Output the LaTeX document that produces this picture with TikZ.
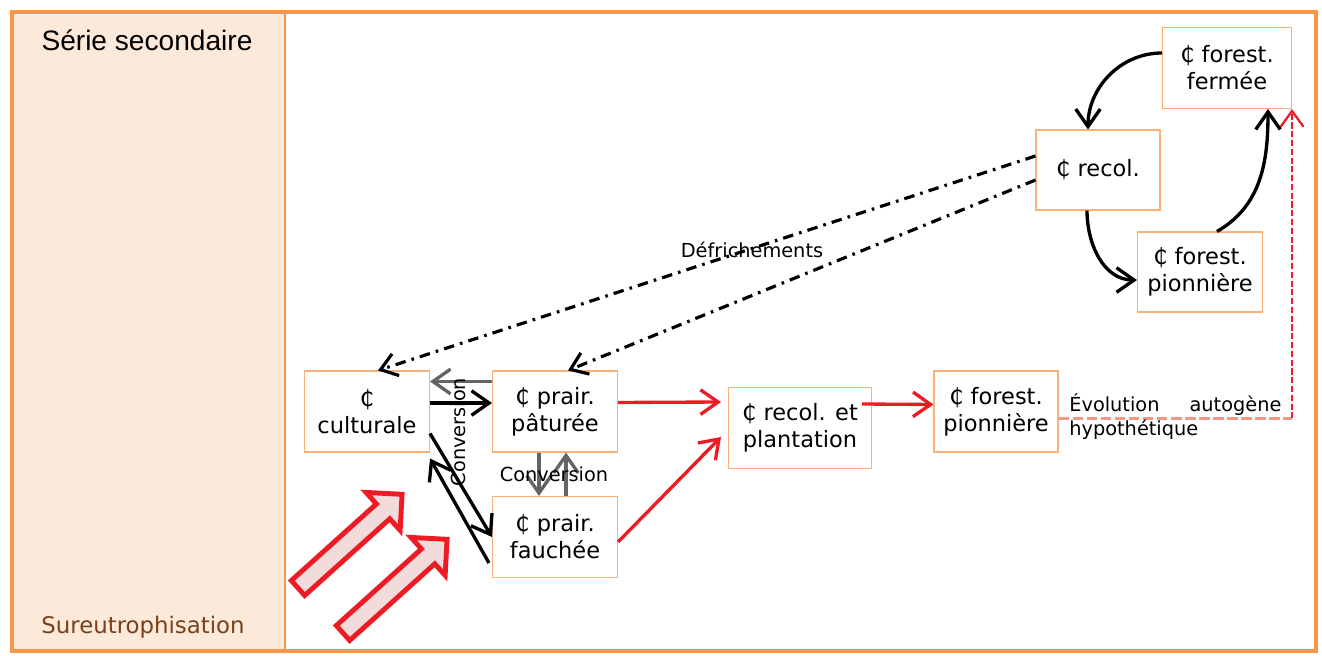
\documentclass[tikz,border=0pt]{standalone}
\usepackage{fontspec}
\setmainfont{DejaVu Sans}
\newfontfamily\arial{Liberation Sans}
\usetikzlibrary{arrows.meta}

\definecolor{orangecadre}{RGB}{247,150,70}
\definecolor{orangeboite}{RGB}{250,176,120}
\definecolor{peche}{RGB}{252,233,217}
\definecolor{rougefl}{RGB}{237,28,36}
\definecolor{rosefl}{RGB}{242,220,219}
\definecolor{saumon}{RGB}{244,150,130}
\definecolor{brun}{RGB}{120,65,25}
\definecolor{grisfl}{RGB}{100,100,100}

\tikzset{
  boite/.style={draw=orangeboite, line width=0.6pt, fill=white, align=center,
    minimum width=2.5cm, minimum height=1.62cm, inner sep=2pt,
    font=\fontsize{12.8}{15.4}\selectfont},
  etiq/.style={font=\fontsize{11}{13.5}\selectfont, inner sep=1pt},
  fleche/.style={line width=1.9pt, -{Straight Barb[length=10pt,width=14pt]}},
  flecherouge/.style={fleche, rougefl},
  flechegrise/.style={fleche, grisfl},
  defrich/.style={line width=1.8pt, dash pattern=on 6pt off 3.5pt on 1.5pt off 3.5pt,
    -{Straight Barb[length=9pt,width=13pt]}},
  pointsaumon/.style={saumon, line width=2pt, dash pattern=on 6pt off 2pt},
  pointrouge/.style={rougefl, line width=1.3pt, dash pattern=on 3.5pt off 1.5pt,
    -{Straight Barb[length=9pt,width=13pt]}},
  creuse/.style={draw=rougefl, fill=rosefl, line width=2.8pt, line join=miter}
}

% grosse fleche creuse : #1 = milieu de la queue
\newcommand{\flechecreuse}[1]{%
  \begin{scope}[shift={#1}, rotate=42]
    \draw[creuse] (0,-0.2) -- (2.29,-0.2) -- (2.29,-0.51) -- (2.8,0)
      -- (2.29,0.51) -- (2.29,0.2) -- (0,0.2) -- cycle;
  \end{scope}}

\begin{document}
\begin{tikzpicture}
    \useasboundingbox (0,0) rectangle (26.44,13.1);

    % Cadre et bandeau de gauche
    \fill[peche] (0.24,0.08) rectangle (5.7,12.86);
    \draw[orangecadre, line width=2.3pt] (0.24,0.08) rectangle (26.32,12.86);
    \draw[orangecadre, line width=1.5pt] (5.7,0.08) -- (5.7,12.86);
    \node[font=\arial\fontsize{16}{19}\selectfont] (titre) at (2.94,12.3) {Série secondaire};
    \node[text=brun, font=\fontsize{13}{15}\selectfont] (sureu) at (2.86,0.56) {Sureutrophisation};

    % Communautes
    \node[boite] (culturale) at (7.34,4.87) {₵\\culturale};
    \node[boite] (paturee) at (11.1,4.87) {₵ prair.\\pâturée};
    \node[boite] (fauchee) at (11.1,2.36) {₵ prair.\\fauchée};
    \node[boite, minimum width=2.86cm] (plantation) at (16.0,4.54) {₵ recol. et\\plantation};
    \node[boite, minimum width=2.48cm] (pionniere) at (19.92,4.87) {₵ forest.\\pionnière};
    \node[boite, minimum width=2.48cm, minimum height=1.6cm] (recol) at (21.96,9.7) {₵ recol.};
    \node[boite, minimum width=2.58cm] (fermee) at (24.54,11.74) {₵ forest.\\fermée};
    \node[boite, minimum height=1.6cm] (pionniereh) at (24.0,7.66) {₵ forest.\\pionnière};

    % Conversions
    \draw[fleche] ([yshift=0.17cm]culturale.east) -- ([yshift=0.17cm]paturee.west);
    \draw[flechegrise] ([yshift=0.6cm]paturee.west) -- ([yshift=0.6cm]culturale.east);
    \draw[fleche] ([yshift=-0.44cm]culturale.east) -- (fauchee.west);
    \draw[fleche] ([xshift=-0.06cm,yshift=-0.52cm]fauchee.west) -- ([yshift=-0.12cm]culturale.south east);
    \draw[flechegrise] ([xshift=-0.32cm]paturee.south) -- ([xshift=-0.32cm]fauchee.north);
    \draw[flechegrise] ([xshift=0.22cm]fauchee.north) -- ([xshift=0.22cm]paturee.south);
    \node[etiq, rotate=90] (conv1) at (9.16,4.46) {Conversion};
    \node[etiq] (conv2) at (11.08,3.62) {Conversion};

    % Boisement
    \draw[flecherouge] ([yshift=0.18cm]paturee.east) -- ([xshift=-0.14cm,yshift=0.52cm]plantation.west);
    \draw[flecherouge] ([yshift=-0.1cm]fauchee.east) -- ([xshift=-0.14cm,yshift=-0.18cm]plantation.west);
    \draw[flecherouge] ([xshift=-0.2cm,yshift=0.48cm]plantation.east) -- ([yshift=0.14cm]pionniere.west);

    % Evolution autogene
    \path ([yshift=-0.14cm]pionniere.east) coordinate (depart);
    \coordinate (coin) at (fermee.south east |- depart);
    \draw[pointsaumon] (depart) -- (coin);
    \draw[pointrouge] (coin) -- (fermee.south east);
    \node[etiq, anchor=west, align=left, inner sep=0pt] (evol) at (21.38,4.77)
      {\makebox[4.24cm][s]{Évolution autogène}\\hypothétique};

    % Defrichements
    \draw[defrich] ([yshift=0.28cm]recol.west) -- ([xshift=0.22cm]culturale.north);
    \draw[defrich] ([yshift=-0.2cm]recol.west) -- ([xshift=0.26cm]paturee.north);
    \node[etiq] (defr) at (15.04,8.1) {Défrichements};

    % Cycle forestier
    \draw[fleche] ([yshift=0.3cm]fermee.west) to[out=180,in=90] ([xshift=-0.2cm]recol.north);
    \draw[fleche] ([xshift=-0.22cm]recol.south) to[out=-90,in=180] ([yshift=-0.16cm]pionniereh.west);
    \draw[fleche] ([xshift=0.34cm]pionniereh.north) to[out=30,in=-90] ([xshift=0.82cm]fermee.south);

    % Sureutrophisation
    \flechecreuse{(5.96,1.34)}
    \flechecreuse{(6.86,0.44)}

\end{tikzpicture}
\end{document}
